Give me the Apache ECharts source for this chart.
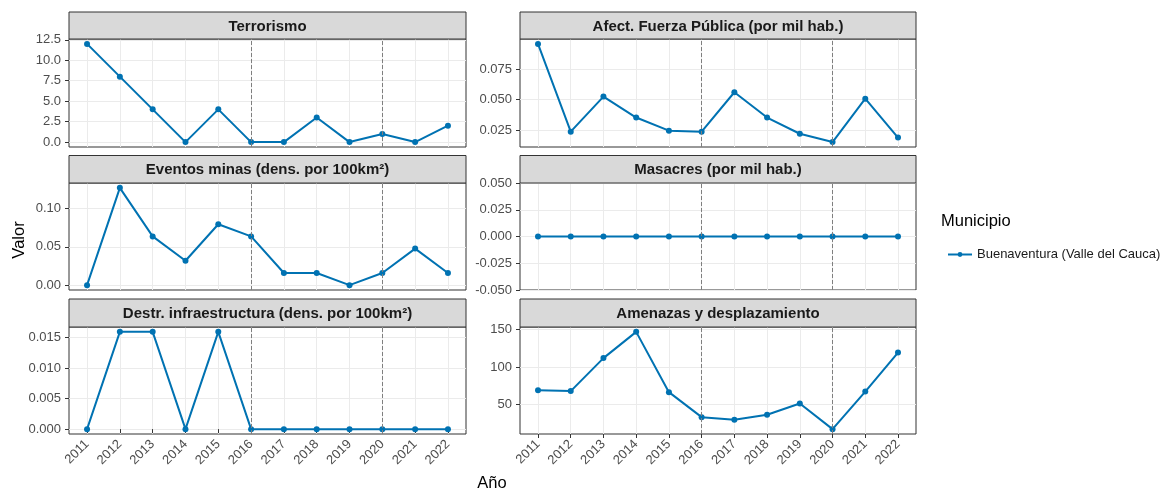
<!DOCTYPE html>
<html>
<head>
<meta charset="utf-8">
<script src="https://cdn.jsdelivr.net/npm/echarts@6/dist/echarts.min.js"></script>
<style>
html, body { margin: 0; padding: 0; background: #fff; }
#chart { width: 1161px; height: 491px; }
</style>
</head>
<body>
<div id="chart"></div>
<script>
var municipio = 'Buenaventura (Valle del Cauca)';
var years = [2011, 2012, 2013, 2014, 2015, 2016, 2017, 2018, 2019, 2020, 2021, 2022];
var refYears = [2016, 2020];

var terrorismo = [12, 8, 4, 0, 4, 0, 0, 3, 0, 1, 0, 2];
var fuerzaPublica = [0.0954, 0.0239, 0.0525, 0.0354, 0.0247, 0.0239, 0.056, 0.0354, 0.0222, 0.0154, 0.0508, 0.0191];
var minas = [0, 0.127, 0.0636, 0.0318, 0.0795, 0.0636, 0.0159, 0.0159, 0, 0.0159, 0.0477, 0.0159];
var masacres = [0, 0, 0, 0, 0, 0, 0, 0, 0, 0, 0, 0];
var infraestructura = [0, 0.0159, 0.0159, 0, 0.0159, 0, 0, 0, 0, 0, 0, 0];
var amenazas = [69.2, 67.9, 111.9, 146.9, 66.5, 33.2, 29.6, 36.3, 51.3, 17.2, 67.3, 119.3];

var terrorismoTicks = [0, 2.5, 5, 7.5, 10, 12.5];
var fuerzaTicks = [0.025, 0.05, 0.075];
var minasTicks = [0, 0.05, 0.1];
var masacresTicks = [-0.05, -0.025, 0, 0.025, 0.05];
var infraTicks = [0, 0.005, 0.01, 0.015];
var amenazasTicks = [50, 100, 150];

var panels = [
    {title: 'Terrorismo', data: terrorismo, ticks: terrorismoTicks, dec: 1},
    {title: 'Afect. Fuerza Pública (por mil hab.)', data: fuerzaPublica, ticks: fuerzaTicks, dec: 3},
    {title: 'Eventos minas (dens. por 100km²)', data: minas, ticks: minasTicks, dec: 2},
    {title: 'Masacres (por mil hab.)', data: masacres, ticks: masacresTicks, dec: 3},
    {title: 'Destr. infraestructura (dens. por 100km²)', data: infraestructura, ticks: infraTicks, dec: 3},
    {title: 'Amenazas y desplazamiento', data: amenazas, ticks: amenazasTicks, dec: 0}
];

// facet layout (px)
var cols = [{left: 69, width: 397}, {left: 520, width: 396}];
var rows = [{strip: 12, top: 39, height: 108}, {strip: 155.5, top: 183, height: 107}, {strip: 299, top: 327, height: 107}];

var font = '"Liberation Sans", Arial, sans-serif';
var lineColor = '#0072B2';

var grids = [], xAxes = [], yAxes = [], series = [], graphics = [];

panels.forEach(function (p, i) {
    var c = cols[i % 2], r = rows[Math.floor(i / 2)];
    var bottomRow = Math.floor(i / 2) === 2;

    // ggplot-like 5% expansion of the y range
    var lo = Math.min.apply(null, p.data), hi = Math.max.apply(null, p.data);
    var pad = (hi - lo) * 0.05;
    var ymin = hi === lo ? lo - 0.05 : lo - pad;
    var ymax = hi === lo ? hi + 0.05 : hi + pad;

    grids.push({
        left: c.left, top: r.top, width: c.width, height: r.height,
        show: true, borderColor: '#333', borderWidth: 1, backgroundColor: '#fff'
    });

    // only the bottom row carries x ticks and labels
    xAxes.push({
        type: 'value', gridIndex: i, min: 2010.45, max: 2022.55,
        position: bottomRow ? 'bottom' : 'top',
        axisLine: {show: false},
        axisTick: {show: bottomRow, length: 4, customValues: years, lineStyle: {color: '#333'}},
        axisLabel: {
            show: bottomRow, customValues: years, rotate: 45, margin: 8,
            color: '#4d4d4d', fontSize: 13, fontFamily: font,
            formatter: function (v) { return String(v); }
        },
        splitLine: {show: true, lineStyle: {color: '#ebebeb', width: 1}}
    });

    yAxes.push({
        type: 'value', gridIndex: i, min: ymin, max: ymax,
        axisLine: {show: false},
        axisTick: {show: true, length: 4, customValues: p.ticks, lineStyle: {color: '#333'}},
        axisLabel: {
            customValues: p.ticks, margin: 8,
            color: '#4d4d4d', fontSize: 13, fontFamily: font,
            formatter: function (v) { return v.toFixed(p.dec); }
        },
        splitLine: {show: true, lineStyle: {color: '#ebebeb', width: 1}}
    });

    series.push({
        name: municipio, type: 'line', xAxisIndex: i, yAxisIndex: i,
        data: years.map(function (y, k) { return [y, p.data[k]]; }),
        symbol: 'circle', symbolSize: 6,
        lineStyle: {color: lineColor, width: 2},
        itemStyle: {color: lineColor},
        animation: false,
        markLine: {
            silent: true, symbol: ['none', 'none'], animation: false,
            label: {show: false},
            lineStyle: {color: '#7f7f7f', type: 'dashed', width: 1},
            data: refYears.map(function (y) { return {xAxis: y}; })
        }
    });

    // facet strip
    graphics.push({
        type: 'rect', z: 100,
        shape: {x: c.left, y: r.strip, width: c.width, height: r.top - r.strip},
        style: {fill: '#d9d9d9', stroke: '#333', lineWidth: 1}
    });
    graphics.push({
        type: 'text', z: 101, x: c.left + c.width / 2, y: (r.strip + r.top) / 2 + 1,
        style: {
            text: p.title, fill: '#1a1a1a', font: 'bold 15px ' + font,
            textAlign: 'center', textVerticalAlign: 'middle'
        }
    });
});

graphics.push({
    type: 'text', x: 19, y: 240, rotation: Math.PI / 2,
    style: {text: 'Valor', fill: '#000', font: '16.5px ' + font, textAlign: 'center', textVerticalAlign: 'middle'}
});
graphics.push({
    type: 'text', x: 492, y: 483,
    style: {text: 'Año', fill: '#000', font: '16.5px ' + font, textAlign: 'center', textVerticalAlign: 'middle'}
});
graphics.push({
    type: 'text', x: 941, y: 221,
    style: {text: 'Municipio', fill: '#000', font: '16.5px ' + font, textAlign: 'left', textVerticalAlign: 'middle'}
});

var chart = echarts.init(document.getElementById('chart'));
chart.setOption({
    animation: false,
    grid: grids,
    xAxis: xAxes,
    yAxis: yAxes,
    series: series,
    legend: {
        data: [municipio], left: 942, top: 243, itemWidth: 24, itemHeight: 6, itemGap: 6,
        textStyle: {color: '#1a1a1a', fontSize: 13, fontFamily: font}
    },
    graphic: graphics
});
</script>
</body>
</html>
